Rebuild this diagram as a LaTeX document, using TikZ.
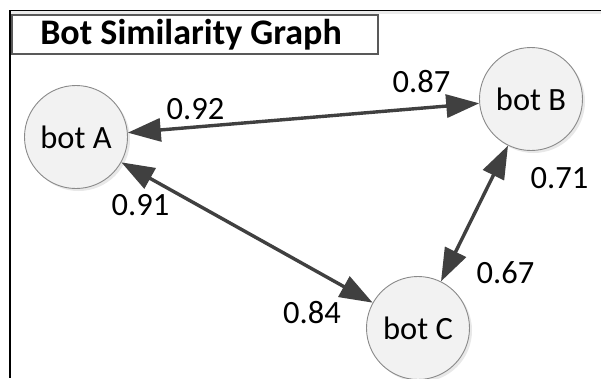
\documentclass[tikz,border=0pt]{standalone}
\usepackage{fontspec}
\setmainfont{Carlito}
\usetikzlibrary{arrows.meta,shadows}
\definecolor{edgegray}{HTML}{404040}
\definecolor{nodefill}{HTML}{F2F2F2}
\definecolor{nodeline}{HTML}{8A8A8A}
\tikzset{
  bot/.style={circle, draw=nodeline, line width=0.9pt, fill=nodefill,
    minimum size=103pt, inner sep=0pt, font=\fontsize{32.5}{34}\selectfont,
    drop shadow={shadow xshift=2.5pt, shadow yshift=-2.5pt, opacity=0.18, fill=gray}},
  sim/.style={draw=edgegray, line width=3.4pt,
    {Triangle[length=33pt,width=23pt]}-{Triangle[length=33pt,width=23pt]}},
  weight/.style={anchor=base, inner sep=0pt, font=\fontsize{32.5}{34}\selectfont},
  titlebox/.style={draw=black!65, line width=1.2pt, fill=white}
}
\begin{document}
\begin{tikzpicture}[x=1pt, y=-1pt]
  \useasboundingbox (0,0) rectangle (601,378);
  \fill[white] (0,0) rectangle (601,378);

  % frame lines
  \draw[black!8, line width=2.5pt] (11,12.5) -- (601,12.5);
  \draw[black, line width=1pt] (10,10) -- (601,10);
  \draw[black, line width=1.6pt] (10,10) -- (10,378);

  % title
  \node[titlebox, minimum width=366pt, minimum height=39pt, inner sep=0pt] (title) at (195,34.5) {};
  \node[anchor=base, inner sep=0pt, font=\fontsize{36}{38}\selectfont\bfseries] (titletext) at (191,44) {Bot Similarity Graph};

  % bots
  \node[bot] (A) at (76,137) {bot A};
  \node[bot] (B) at (531,99) {bot B};
  \node[bot] (C) at (418,328) {bot C};

  % similarity edges
  \draw[sim] (A) -- (B);
  \draw[sim] (A) -- (C);
  \draw[sim] (B) -- (C);

  % weights
  \node[weight] (wab) at (195.5,119) {0.92};
  \node[weight] (wba) at (421.5,92) {0.87};
  \node[weight] (wac) at (140.5,215) {0.91};
  \node[weight] (wca) at (312,323) {0.84};
  \node[weight] (wbc) at (559.5,188) {0.71};
  \node[weight] (wcb) at (505.5,283) {0.67};
\end{tikzpicture}
\end{document}
